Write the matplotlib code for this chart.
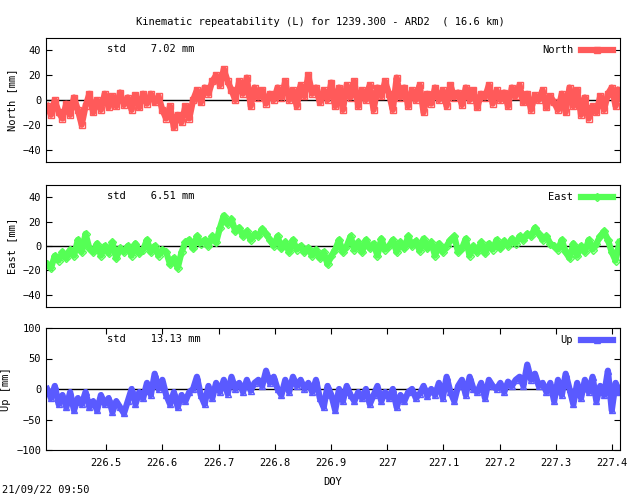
import matplotlib
matplotlib.use('Agg')
import matplotlib.pyplot as plt
import numpy as np

plt.rcParams['font.family'] = 'DejaVu Sans Mono'
plt.rcParams['font.size'] = 7.5

X_START, X_END = 226.395, 227.413
XLIM = (226.393, 227.414)

north = [-5, -12, 0, -10, -15, -3, -12, 2, -8, -20, -5,
         5, -10, 0, -8, 5, -6, 3, -5, 6, -4, 2, -8,
         4, -6, 5, -3, 5, -2, 3,
         -8, -15, -5, -22, -12, -18, -5, -15, 0,
         8, -2, 10, 5, 15, 20, 12, 25, 15,
         8, 0, 15, 5, 18, -5, 10, 2, 8, -3, 5, 0,
         10, 2, 15, 0, 8, -5, 12, 3, 20, 5, 10, -2, 8, 0, 14, -5, 10, -8, 12, 2,
         15, -5, 8, 0, 12, -8, 10, 3, 15,
         5, -8, 18, 2, 10, -5, 8, 0, 12, -10, 5, -3, 10, 0, 8, -5, 12, 2, 6, -4,
         10, 0, 8, -6, 5, 2, 12, -3, 8, 0, 6, -5, 10, 3, 12, -2, 5, -8, 4, 0,
         8, -6, 3, -2,
         -8, 5, -10, 10, -5, 8, -12, 2, -15, -5, -10, 3, -8, 5, 10, -5, 8]

east = [-15, -18, -8, -12, -5, -10, -3, -8,
        5, -5, 10, -2,
        -5, 2, -8, 0, -6, 3, -10, -2, -5, 0, -8, 2, -6, -3, 5, -5, 0, -8, -3,
        -5, -15, -10, -18, -5, 3,
        5, -2, 8, 2, 5, 0, 8, 3,
        15, 25, 18, 22, 12,
        15, 8, 12, 5, 10, 8, 14, 10,
        5, 0, 8, -2, 3, -5, 5, -3, 0,
        -5, -2, -8, -3, -10, -5, -15, -8, -3,
        5, -5, 0, 8, -3, 3, -5, 5, -2, 2, -8, 6, -3, 0, 5, -5, 3, -2, 8, 0,
        4, -4, 6, -2, 3, -8, 2, -5, 0, 5,
        8, -5, -2, 6, -8, 0, -5, 3, -6, 2, -3, 5, -2, 4, 0, 6, 2, 8, 5, 10, 8, 15,
        10, 5, 8, 2, 0, -3, 5,
        -5, -10, 2, -8, 0, -5, 5, -3, 2, 8, 12, 5, -5, -12, 3]

up = [0, -15, 5, -25, -10, -30, -5, -35, -15, -25, -5, -30, -20, -35, -10, -25,
      -15, -38, -20, -30, -40,
      -20, 0, -25, -5, -15, 10, -10, 25, 0,
      15, -10, -25, -5, -30, -10, -20, -5, 0,
      20, -10, -25, 5, -15, 10,
      -5, 15, -8, 20, 0, 10, -5, 15, -3, 10,
      15, 5, 30, 10, 20, 0, -10, 15, -5, 20, 5, 15, 0,
      10, -5, 15, -15, -30, 5, -10, -35, 0, -20, 5,
      -10, -20, -5, -15, 0, -25, -10, 5, -20, -5, -15, 0, -30, -10, -20, -5, 0,
      -15, -8, 5, -12, 0, -10,
      10, -15, 20, -5, -20, 5, 15, -10, 20, 0, -5, 10, -15, 15, 5, 0, 10, -5,
      12, 5, 15,
      20, 5, 40, 15, 25, 5, 10,
      -5, 10, -20, 15, -10, 25, 0, -25, 10, -15, 15, -5, 20, -20, 5, -10, 30,
      -35, 10, -5]

panels = [
    ('North', north, '#ff5a5a', 's', 'North [mm]', (-50, 50), [-40, -20, 0, 20, 40], 'std    7.02 mm', 38, 162),
    ('East', east, '#55ff55', 'D', 'East [mm]', (-50, 50), [-40, -20, 0, 20, 40], 'std    6.51 mm', 185, 307),
    ('Up', up, '#5a5aff', '^', 'Up [mm]', (-100, 100), [-100, -50, 0, 50, 100], 'std    13.13 mm', 328, 450),
]

W, H = 640, 496
fig = plt.figure(figsize=(W / 100, H / 100), dpi=100)

for i, (name, vals, color, mk, ylab, ylim, yticks, stdtxt, top, bot) in enumerate(panels):
    ax = fig.add_axes([46 / W, 1 - bot / H, 574 / W, (bot - top) / H])
    x = np.linspace(X_START, X_END, len(vals))
    ax.axhline(0, color='black', lw=1)
    ax.plot(x, vals, color=color, lw=4.5, marker=mk, ms=4.5, mfc='none', mew=1, label=name)
    ax.set_xlim(*XLIM)
    ax.set_ylim(*ylim)
    ax.set_yticks(yticks)
    ax.set_ylabel(ylab, labelpad=4)
    ax.tick_params(direction='in', right=True, length=4)
    ax.legend(loc='upper right', frameon=False, handlelength=3, borderaxespad=0.3,
              markerfirst=False, fontsize=7.5)
    fig.text(107 / W, 1 - (top + 11) / H, stdtxt, ha='left', va='center')
    if i < 2:
        ax.set_xticks([])
    else:
        ax.set_xticks([226.5, 226.6, 226.7, 226.8, 226.9, 227.0, 227.1, 227.2, 227.3, 227.4])
        ax.set_xticklabels(['226.5', '226.6', '226.7', '226.8', '226.9', '227',
                            '227.1', '227.2', '227.3', '227.4'])
        ax.tick_params(axis='x', top=True, pad=6)
        ax.set_xlabel('DOY', labelpad=6)

fig.text(0.5, 1 - 22 / H, 'Kinematic repeatability (L) for 1239.300 - ARD2  ( 16.6 km)',
         ha='center', va='center')
fig.text(2 / W, 1 - 490 / H, '21/09/22 09:50', ha='left', va='center')

fig.savefig('out.png', dpi=100)
